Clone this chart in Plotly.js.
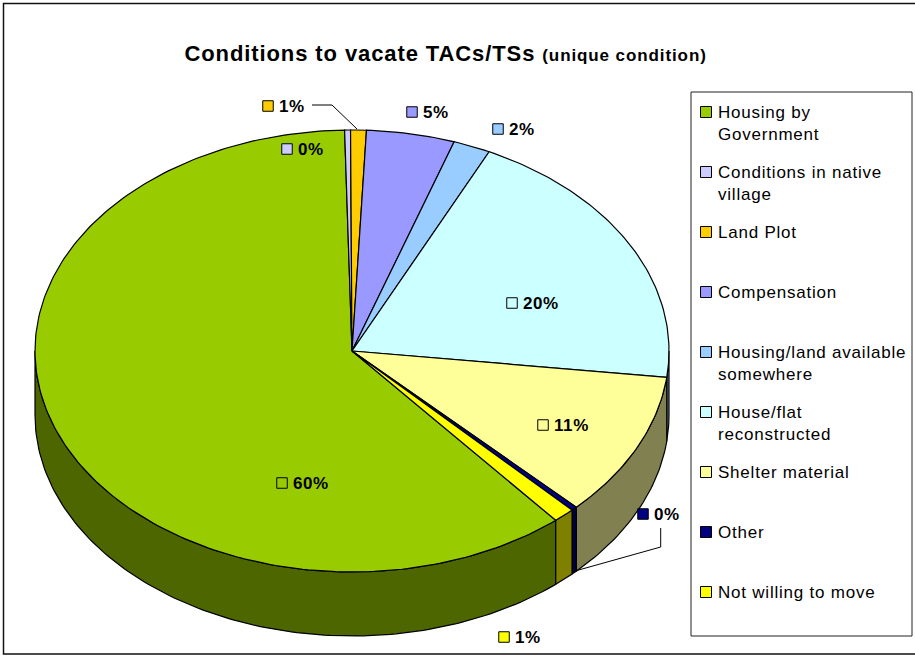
<!DOCTYPE html>
<html><head><meta charset="utf-8">
<script src="https://cdn.plot.ly/plotly-3.0.1.min.js"></script>
<style>
html,body{margin:0;padding:0;background:#fff;overflow:hidden}
#chart{width:915px;height:656px}
.gtitle{letter-spacing:.9px}
.scatterlayer text{letter-spacing:.6px}
.annotation-text{letter-spacing:.78px}
</style></head><body><div id="chart"></div>
<script>
var categories=["Housing by<br>Government","Conditions in native<br>village","Land Plot","Compensation","Housing/land available<br>somewhere","House/flat<br>reconstructed","Shelter material","Other","Not willing to move"];
var shares=[60.8,0.3,0.8,4.5,1.9,19.8,10.6,0.3,1.1];
var percentLabels=["60%","0%","1%","5%","2%","20%","11%","0%","1%"];
var topColors=["#99CC00","#CCCCFF","#FFCC00","#9999FF","#99CCFF","#CCFFFF","#FFFF99","#000080","#FFFF00"];
var wallColors=["#4D6600","#666680","#806600","#4D4D80","#4D6680","#668080","#808050","#000040","#808000"];

// Pie geometry, in axis units (the axes span the page)
var CX=352,CY=351,RX=317,RY=221,DEPTH=64,START_DEG=140;
var labelX=[282,287,268,412,498,512,543,643,504];
var labelY=[483,149,106,112,129,303,425,514,637];
var legendY=[112,172,232,292,352,412,472,532,592];
var LEG_SW_X=706,LEG_TX_X=717,LABEL_GAP=11,LABEL_DY=1.5;

function px(t){return CX+RX*Math.sin(t*Math.PI/180);}
function py(t,d){return CY-RY*Math.cos(t*Math.PI/180)+(d||0);}
function arc(a,b,d){var n=Math.max(2,Math.ceil(Math.abs(b-a))),xs=[],ys=[];
  for(var i=0;i<=n;i++){var t=a+(b-a)*i/n;xs.push(px(t));ys.push(py(t,d));}
  return {x:xs,y:ys};}

var total=shares.reduce(function(s,v){return s+v;},0);
var spans=[],acc=START_DEG;
shares.forEach(function(v){var a=acc,b=acc+v/total*360;spans.push([a,b]);acc=b;});

var traces=[];
function poly(xs,ys,fill,name){traces.push({type:"scatter",mode:"lines",x:xs,y:ys,fill:"toself",fillcolor:fill,
  line:{color:"#000",width:1.2},hoverinfo:"skip",showlegend:false,name:name});}

// Walls: visible where the rim faces the viewer (90..270 deg, also 450..630)
spans.forEach(function(s,i){
  [0,360].forEach(function(off){
    var a=Math.max(s[0],90+off),b=Math.min(s[1],270+off);
    if(b<=a)return;
    var up=arc(a,b,0),lo=arc(b,a,DEPTH);
    poly(up.x.concat(lo.x,[up.x[0]]),up.y.concat(lo.y,[up.y[0]]),wallColors[i],"wall");
  });
});
// Top faces
spans.forEach(function(s,i){
  var r=arc(s[0],s[1],0);
  poly([CX].concat(r.x,[CX]),[CY].concat(r.y,[CY]),topColors[i],categories[i]);
});
// Data labels
traces.push({type:"scatter",mode:"markers",x:labelX,y:labelY,
  marker:{symbol:"square",size:10.5,color:topColors,line:{color:"#000",width:1}},hoverinfo:"skip",showlegend:false,cliponaxis:false});
traces.push({type:"scatter",mode:"text",x:labelX.map(function(v){return v+LABEL_GAP;}),y:labelY.map(function(v){return v+LABEL_DY;}),text:percentLabels,textposition:"middle right",
  textfont:{family:"Liberation Sans",size:17,color:"#000",weight:700},hoverinfo:"skip",showlegend:false,cliponaxis:false});
// Legend swatches
traces.push({type:"scatter",mode:"markers",x:legendY.map(function(){return LEG_SW_X;}),y:legendY,
  marker:{symbol:"square",size:11,color:topColors,line:{color:"#000",width:1}},hoverinfo:"skip",showlegend:false});

var annotations=categories.map(function(c,i){return {xref:"x",yref:"y",x:LEG_TX_X,y:legendY[i]-10,text:c,showarrow:false,
  xanchor:"left",yanchor:"top",align:"left",borderpad:0,font:{family:"Liberation Sans",size:17,color:"#000"}};});

function rect(x0,y0,x1,y1,w,c){return {type:"rect",xref:"x",yref:"y",x0:x0,y0:y0,x1:x1,y1:y1,line:{color:c,width:w},fillcolor:"rgba(0,0,0,0)",layer:"below"};}
function path(d){return {type:"path",xref:"x",yref:"y",path:d,line:{color:"#000",width:1},layer:"above"};}
var shapes=[rect(3.5,3.5,920,654,1.5,"#111"),rect(691,92,912,636,1,"#222"),
  path("M312,105 L332,105 L357,129"),path("M660.7,528 L660.7,547 L575,571")];

Plotly.newPlot("chart",traces,{
  width:915,height:656,margin:{l:0,r:0,t:0,b:0},paper_bgcolor:"#fff",plot_bgcolor:"#fff",showlegend:false,
  title:{text:"Conditions to vacate TACs/TSs <span style='font-size:17px'>(unique condition)</span>",x:0.487,xanchor:"center",y:0.919,yanchor:"middle",
    font:{family:"Liberation Sans",size:22,color:"#000",weight:700}},
  xaxis:{range:[0,915],visible:false,fixedrange:true},
  yaxis:{range:[656,0],visible:false,fixedrange:true},
  annotations:annotations,shapes:shapes
},{displayModeBar:false,staticPlot:true});
</script></body></html>
